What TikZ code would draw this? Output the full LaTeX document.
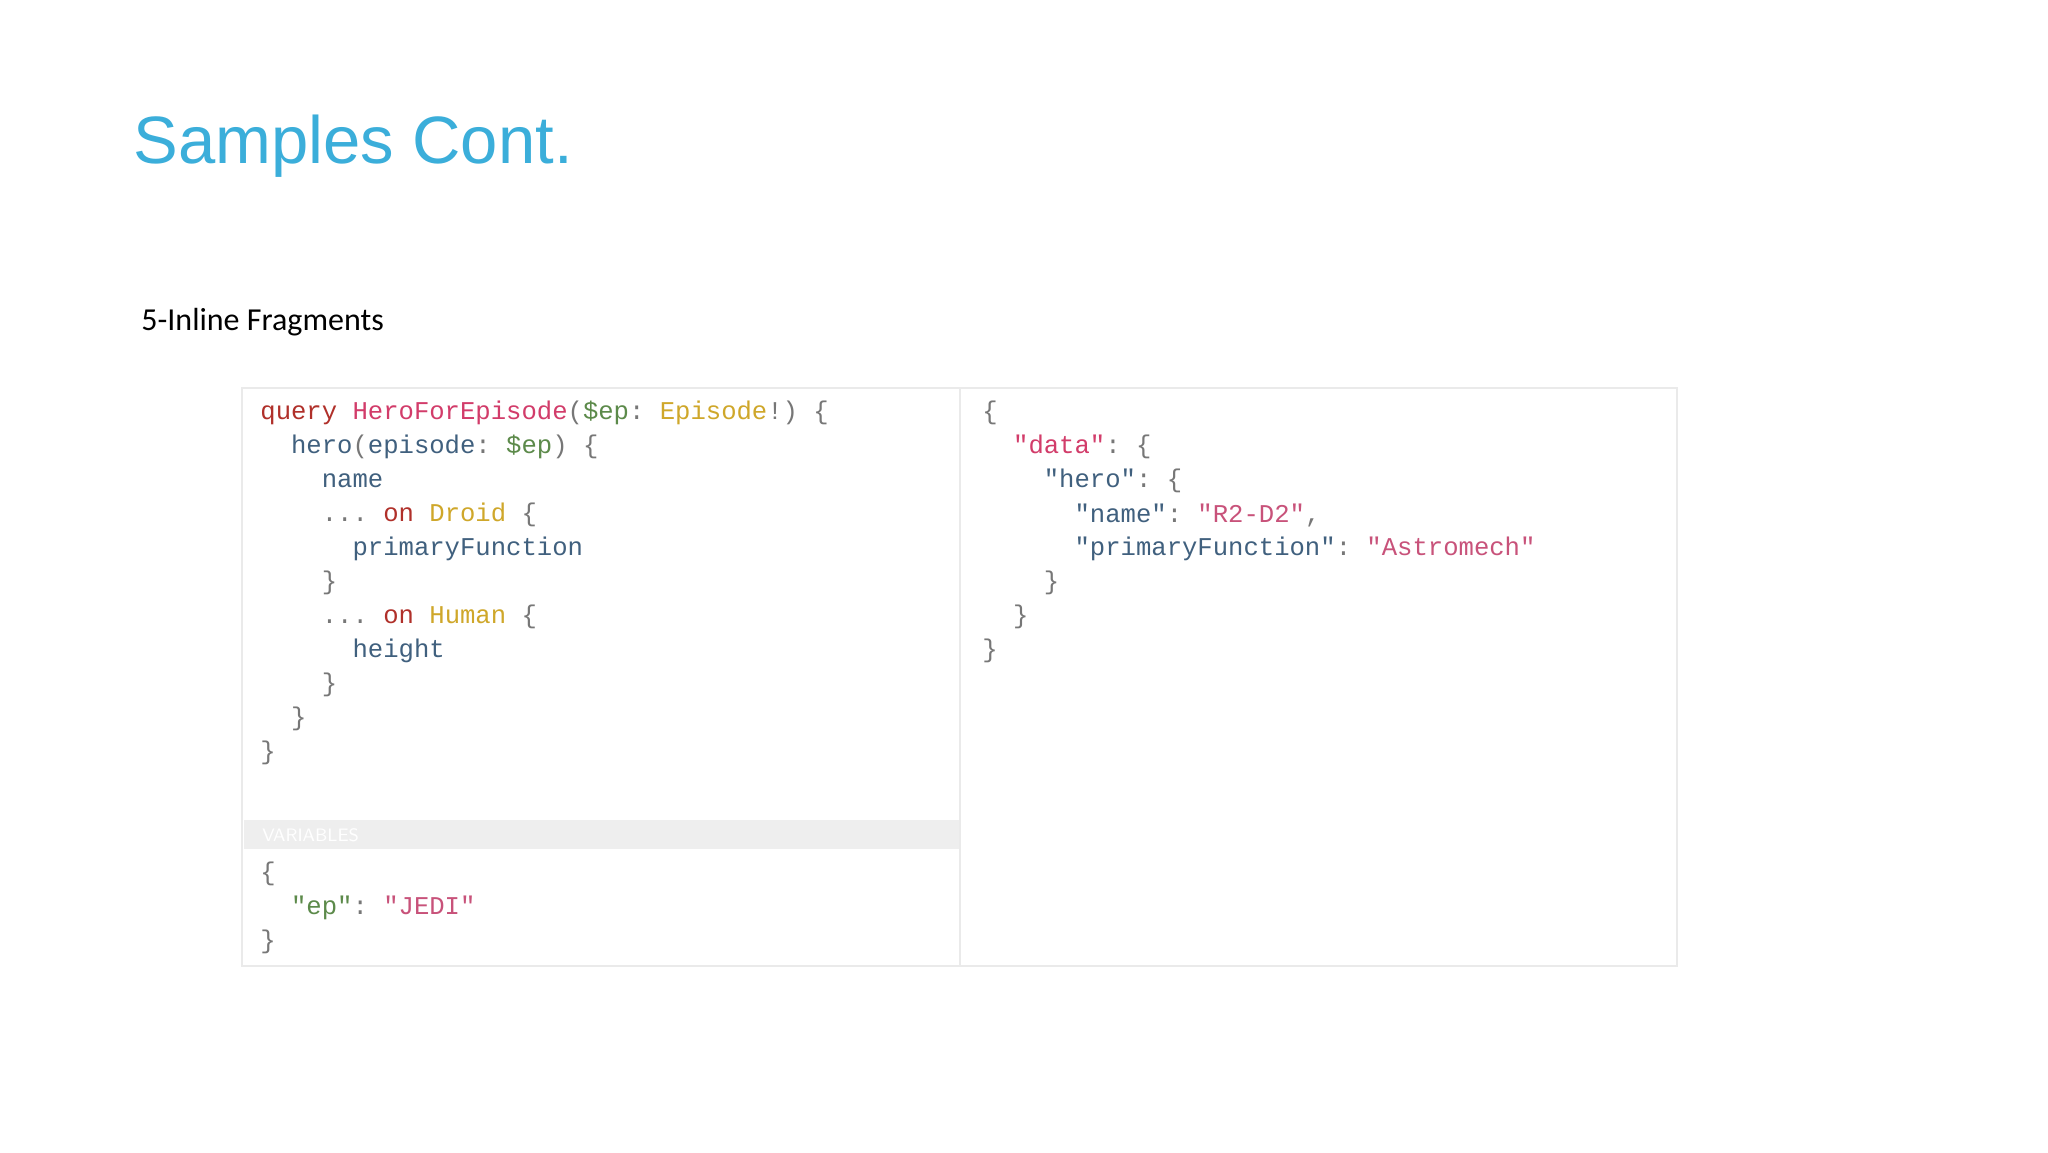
\documentclass[tikz,border=0pt]{standalone}
\usepackage{fontspec}
\setmainfont{Carlito}
\setmonofont{Liberation Mono}
\newfontfamily\titlefont{Liberation Sans}
\definecolor{ttl}{HTML}{3BAEDA}
\definecolor{kw}{HTML}{B0302A}
\definecolor{df}{HTML}{D23C6A}
\definecolor{vr}{HTML}{5C8A4A}
\definecolor{ty}{HTML}{CFA72A}
\definecolor{pr}{HTML}{40607E}
\definecolor{pu}{HTML}{777777}
\definecolor{st}{HTML}{C8527A}
\definecolor{panelbd}{HTML}{EAEAEA}
\definecolor{varbar}{HTML}{EEEEEE}
\newcommand{\K}[1]{\textcolor{kw}{#1}}
\newcommand{\D}[1]{\textcolor{df}{#1}}
\newcommand{\V}[1]{\textcolor{vr}{#1}}
\newcommand{\T}[1]{\textcolor{ty}{#1}}
\newcommand{\Pp}[1]{\textcolor{pr}{#1}}
\newcommand{\U}[1]{\textcolor{pu}{#1}}
\newcommand{\Ss}[1]{\textcolor{st}{#1}}
\begin{document}
\begin{tikzpicture}[x=0.5pt,y=-0.5pt,
  code/.style={anchor=west,inner sep=0pt,font=\fontsize{12.8}{14}\ttfamily}]
\useasboundingbox (0,0) rectangle (2048,1152);
\fill[white] (0,0) rectangle (2048,1152);
\node[anchor=base west,inner sep=0pt,text=ttl,font=\fontsize{33.5}{38}\titlefont] (title) at (133,163) {Samples Cont.};
\node[anchor=west,inner sep=0pt,font=\fontsize{16}{19}\selectfont] (sub) at (141,322) {5-Inline Fragments};
\draw[panelbd,line width=1pt,fill=white] (242,388) rectangle (1677,966);
\fill[varbar] (244,820) rectangle (960,849);
\node[anchor=west,inner sep=0pt,text=white,font=\fontsize{9}{10}\sffamily] (varlbl) at (262,835) {VARIABLES};
\draw[panelbd,line width=1pt] (960,388) -- (960,966);
% query
\node[code] (q0) at (260,413) {\K{query} \D{HeroForEpisode}\U{(}\V{\$ep}\U{:} \T{Episode}\U{!) \{}};
\node[code] (q1) at (260,447) {\phantom{xx}\Pp{hero}\U{(}\Pp{episode}\U{:} \V{\$ep}\U{) \{}};
\node[code] (q2) at (260,481) {\phantom{xxxx}\Pp{name}};
\node[code] (q3) at (260,515) {\phantom{xxxx}\U{...} \K{on} \T{Droid} \U{\{}};
\node[code] (q4) at (260,549) {\phantom{xxxxxx}\Pp{primaryFunction}};
\node[code] (q5) at (260,583) {\phantom{xxxx}\U{\}}};
\node[code] (q6) at (260,617) {\phantom{xxxx}\U{...} \K{on} \T{Human} \U{\{}};
\node[code] (q7) at (260,651) {\phantom{xxxxxx}\Pp{height}};
\node[code] (q8) at (260,685) {\phantom{xxxx}\U{\}}};
\node[code] (q9) at (260,719) {\phantom{xx}\U{\}}};
\node[code] (q10) at (260,753) {\U{\}}};
% variables
\node[code] (v0) at (260,874) {\U{\{}};
\node[code] (v1) at (260,908) {\phantom{xx}\V{"ep"}\U{:} \Ss{"JEDI"}};
\node[code] (v2) at (260,942) {\U{\}}};
% result
\node[code] (r0) at (982,413) {\U{\{}};
\node[code] (r1) at (982,447) {\phantom{xx}\D{"data"}\U{: \{}};
\node[code] (r2) at (982,481) {\phantom{xxxx}\Pp{"hero"}\U{: \{}};
\node[code] (r3) at (982,515) {\phantom{xxxxxx}\Pp{"name"}\U{:} \Ss{"R2-D2"}\U{,}};
\node[code] (r4) at (982,549) {\phantom{xxxxxx}\Pp{"primaryFunction"}\U{:} \Ss{"Astromech"}};
\node[code] (r5) at (982,583) {\phantom{xxxx}\U{\}}};
\node[code] (r6) at (982,617) {\phantom{xx}\U{\}}};
\node[code] (r7) at (982,651) {\U{\}}};
\end{tikzpicture}
\end{document}
